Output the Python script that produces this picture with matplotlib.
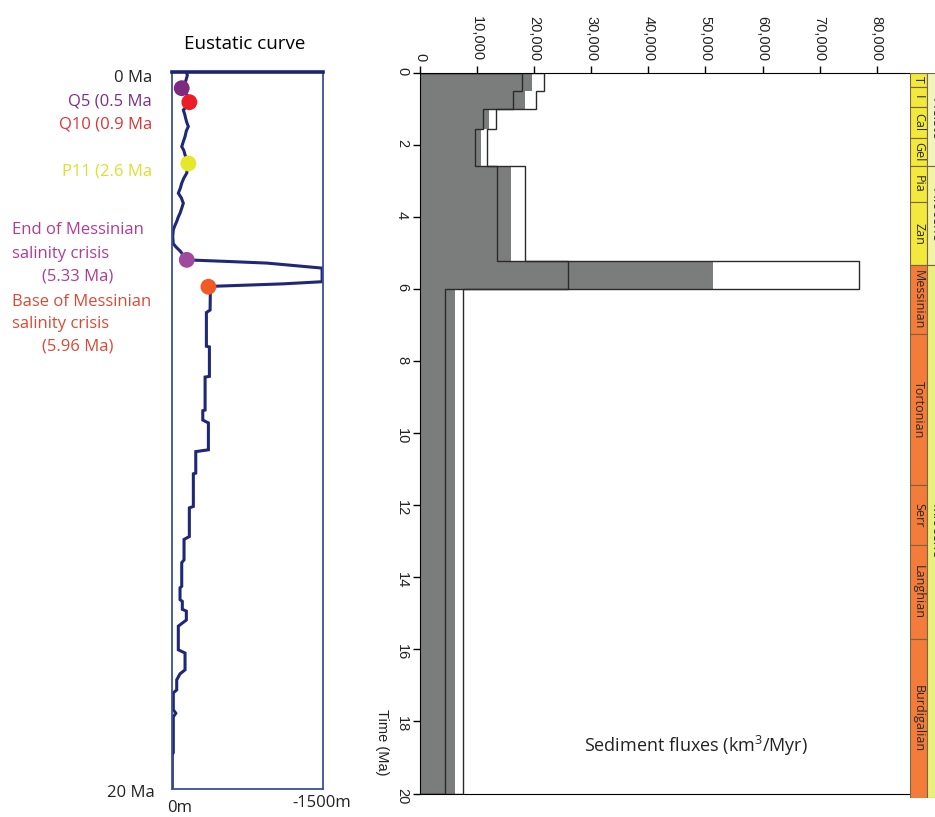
import matplotlib.pyplot as plt
from matplotlib.ticker import FuncFormatter

plt.rcParams['mathtext.fontset'] = 'custom'
plt.rcParams['mathtext.rm'] = 'Open Sans'

# eustatic curve, age (Ma) vs sea level fall (m, positive = lower)
eus_age = [0.00, 0.10, 0.25, 0.40, 0.46, 0.55, 0.70, 0.83, 0.95, 1.07, 1.20, 1.30, 1.42, 1.53,
           1.65, 1.81, 1.95, 2.09, 2.20, 2.32, 2.45, 2.56, 2.70, 2.83, 2.97, 3.11, 3.25, 3.39,
           3.52, 3.67, 3.80, 3.95, 4.05, 4.18, 4.30, 4.41, 4.60, 4.80, 4.90, 5.00, 5.12, 5.25,
           5.30, 5.34, 5.48, 5.86, 5.92, 5.99, 6.65, 6.72, 7.66, 7.68, 8.50, 8.52, 9.44, 9.46,
           9.72, 9.80, 10.55, 10.60, 11.20, 11.22, 12.13, 12.17, 12.97, 13.05, 13.62, 13.70,
           14.36, 14.40, 14.73, 14.78, 15.00, 15.05, 15.30, 15.47, 16.13, 16.22, 16.69, 16.80,
           16.97, 17.25, 17.33, 17.80, 17.90, 18.00, 19.00, 19.05, 20.00]
eus_depth = [140, 150, 135, 110, 94, 115, 160, 170, 150, 110, 125, 133, 145, 160,
             140, 127, 110, 94, 115, 127, 145, 160, 150, 144, 115, 94, 80, 60,
             90, 110, 95, 77, 60, 44, 25, 10, 4, 10, 40, 77, 110, 144,
             600, 944, 1494, 1494, 1100, 380, 377, 340, 340, 370, 370, 327, 327, 304,
             304, 360, 360, 234, 234, 210, 210, 170, 170, 117, 117, 94,
             94, 77, 77, 100, 100, 140, 140, 60, 60, 127, 127, 77,
             44, 44, 10, 10, 35, 10, 10, 0, 0]

marker_age = [0.46, 0.85, 2.56, 5.25, 6.0]
marker_depth = [94, 170, 160, 144, 360]
marker_colors = ['#7d2a80', '#ee1c24', '#e6e62a', '#a04a9e', '#f15a24']

# sediment fluxes (km3/Myr), one value per time interval
t_edges = [0, 0.5, 1.0, 1.56, 2.58, 5.22, 6.0, 20]
flux_min = [17900, 16300, 11000, 9700, 13500, 26000, 4300]
flux_mid = [19700, 18400, 12100, 10700, 15900, 51400, 6100]
flux_max = [21700, 20400, 13300, 11800, 18400, 76800, 7600]

# geologic time column
stage_names = ['T', 'I', 'Cal', 'Gel', 'Pia', 'Zan', 'Messinian', 'Tortonian', 'Serr',
               'Langhian', 'Burdigalian']
stage_top = [0, 0.4, 0.95, 1.8, 2.58, 3.6, 5.33, 7.25, 11.45, 13.1, 15.7]
stage_base = [0.4, 0.95, 1.8, 2.58, 3.6, 5.33, 7.25, 11.45, 13.1, 15.7, 20.12]
epoch_names = ['Pleisto', 'Pliocene', 'Miocene']
epoch_top = [0, 2.58, 5.33]
epoch_base = [2.58, 5.33, 20.12]

W, H = 935, 817
fig = plt.figure(figsize=(W / 100, H / 100), dpi=100)


def box(l, t, r, b):
    # pixel box -> figure fraction
    return [l / W, 1 - b / H, (r - l) / W, (b - t) / H]


def ftext(x, y, s, **kw):
    fig.text(x / W, 1 - y / H, s, **kw)


# ---- left panel: eustatic curve
ax1 = fig.add_axes(box(172.3, 71.7, 322.7, 788.5))
ax1.plot(eus_depth, eus_age, color='#1f2777', lw=2.2, solid_joinstyle='miter', zorder=2)
ax1.scatter(marker_depth, marker_age, s=130, c=marker_colors, zorder=3, linewidths=0)
ax1.set_xlim(0, 1500)
ax1.set_ylim(20, 0)
ax1.set_xticks([])
ax1.set_yticks([])
for s in ax1.spines.values():
    s.set_color('#3d4f98')
    s.set_linewidth(1.3)
ax1.spines['top'].set_color('#1c2470')
ax1.spines['top'].set_linewidth(2.6)

lf = dict(family='Open Sans', fontsize=12, va='center')
ftext(245, 44, 'Eustatic curve', family='Open Sans', fontsize=13.5, ha='center', va='center')
ftext(152, 78, '0 Ma', ha='right', color='#222222', **lf)
ftext(152, 101.5, 'Q5 (0.5 Ma', ha='right', color='#7b2d8b', **lf)
ftext(152, 124.5, 'Q10 (0.9 Ma', ha='right', color='#d9363a', **lf)
ftext(152, 171.5, 'P11 (2.6 Ma', ha='right', color='#dede2e', **lf)
ftext(12, 230, 'End of Messinian', ha='left', color='#b03c92', **lf)
ftext(12, 254, 'salinity crisis', ha='left', color='#b03c92', **lf)
ftext(113, 276.5, '(5.33 Ma)', ha='right', color='#b03c92', **lf)
ftext(12, 301.5, 'Base of Messinian', ha='left', color='#d94a36', **lf)
ftext(12, 324, 'salinity crisis', ha='left', color='#d94a36', **lf)
ftext(113, 346.5, '(5.96 Ma)', ha='right', color='#d94a36', **lf)
ftext(155, 793, '20 Ma', ha='right', color='#222222', **lf)
ftext(167, 808, '0m', ha='left', color='#222222', **lf)
ftext(292, 803, '-1500m', ha='left', color='#222222', **lf)

# ---- right panel: sediment fluxes, rotated so time runs down
ax2 = fig.add_axes(box(420, 72.7, 909, 793.5))
ax2.stairs(flux_mid, t_edges, orientation='horizontal', fill=True, color='#7b7d7c', lw=0)
ax2.stairs(flux_max, t_edges, orientation='horizontal', color='#2a2a2a', lw=1)
ax2.stairs(flux_min, t_edges, orientation='horizontal', color='#2a2a2a', lw=1)
ax2.set_xlim(0, 85640)
ax2.set_ylim(20, 0)
ax2.xaxis.tick_top()
ax2.set_xticks(range(0, 80001, 10000))
ax2.set_yticks(range(0, 21, 2))
ax2.xaxis.set_major_formatter(FuncFormatter(lambda v, p: f'{int(v):,}'))
ax2.spines['right'].set_visible(False)
ax2.tick_params(axis='both', direction='out', length=5, width=1, pad=3,
                labelsize=10.5, labelrotation=-90, labelcolor='#222222')
for lab in ax2.get_xticklabels() + ax2.get_yticklabels():
    lab.set_family('Liberation Sans')

ftext(382, 742, 'Time (Ma)', family='Liberation Sans', fontsize=10.5, rotation=-90,
      ha='center', va='center', color='#222222')
ftext(696, 746, 'Sediment fluxes (km$^{\\mathrm{3}}$/Myr)', family='Open Sans', fontsize=13,
      ha='center', va='center', color='#222222')

# ---- geologic time scale on the right edge (epoch names run off the page, as in the source)
ax3 = fig.add_axes(box(910, 72.7, 935, 72.7 + 20.12 * 36.04))
stage_dur = [b - t for t, b in zip(stage_top, stage_base)]
stage_cols = ['#f3e93c'] * 6 + ['#f37c3a'] * 5
ax3.barh(stage_top, [17] * len(stage_top), height=stage_dur, left=0, align='edge',
         color=stage_cols, edgecolor='#7a6540', lw=0.8)
epoch_dur = [b - t for t, b in zip(epoch_top, epoch_base)]
ax3.barh(epoch_top, [14] * 3, height=epoch_dur, left=17, align='edge',
         color=['#f2f4c0', '#f1f3a8', '#e9ef7c'], edgecolor='#7a6540', lw=0.8)
for name, t, b in zip(stage_names, stage_top, stage_base):
    ax3.text(8.5, (t + b) / 2, name, rotation=-90, ha='center', va='center',
             family='Open Sans', fontsize=9, color='#2a2a2a')
for name, t, b in zip(epoch_names, epoch_top, epoch_base):
    ax3.text(17.4, (t + b) / 2, name, rotation=-90, ha='left', va='center',
             family='Open Sans', fontsize=10, color='#333333')
ax3.set_xlim(0, 25)
ax3.set_ylim(20.12, 0)
ax3.axis('off')

fig.savefig('out.png', dpi=100)
